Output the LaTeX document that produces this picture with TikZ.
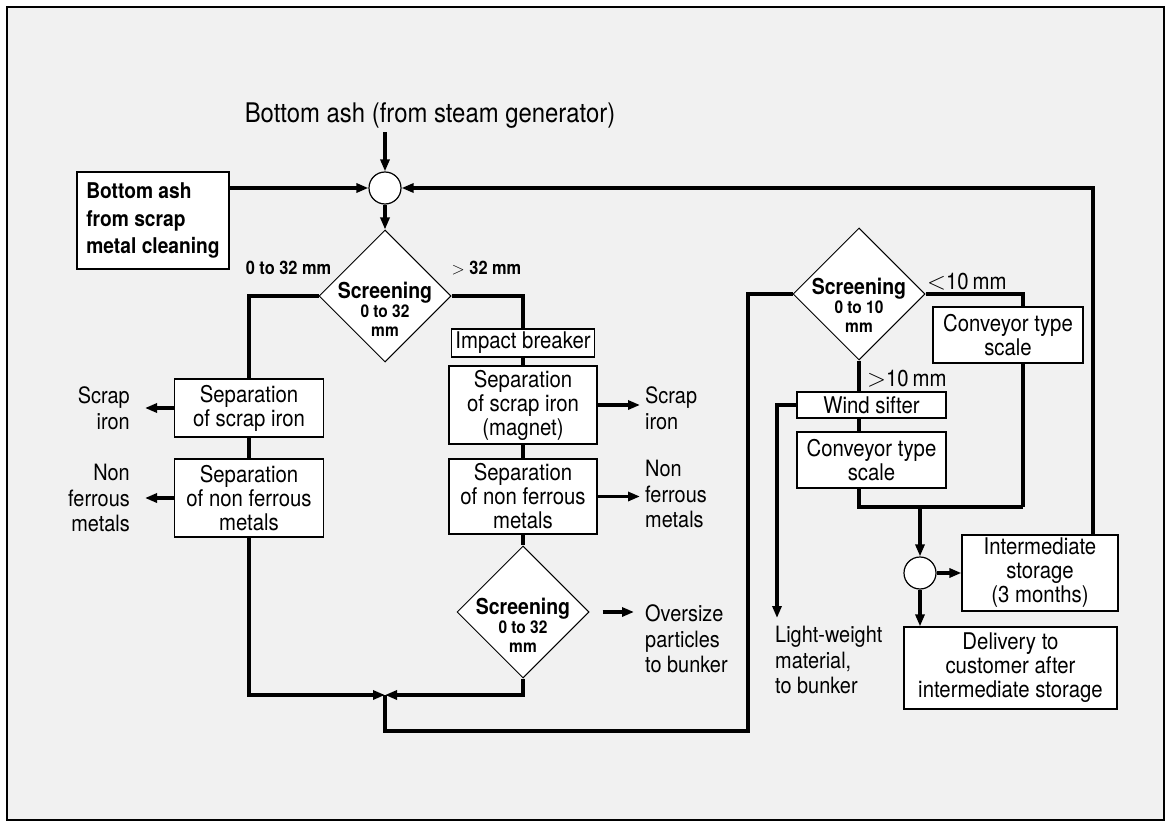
\documentclass[tikz,border=0pt]{standalone}
\usepackage{fontspec}
\setmainfont{TeX Gyre Heros}[FakeStretch=0.885]
\usetikzlibrary{shapes.geometric,arrows.meta}
\definecolor{panel}{HTML}{F1F1F1}
\newcommand{\bodyfont}{\fontsize{23}{24}\selectfont}
\newcommand{\sidefont}{\fontsize{22.5}{25.5}\selectfont}

\begin{document}
\begin{tikzpicture}[x=1pt,y=-1pt,>={Triangle[length=12pt,width=9pt]},
    flow/.style={line width=3.2pt},
    box node/.style={draw,fill=white,line width=1.2pt,inner sep=0pt,align=center,font=\bodyfont},
    mix node/.style={circle,draw,fill=white,line width=1.2pt,inner sep=0pt,minimum size=32pt},
    screen node/.style={diamond,draw,fill=white,line width=1pt,inner sep=0pt,minimum width=132pt,minimum height=132pt},
    screen text/.style={align=center,font=\fontsize{17.5}{19}\selectfont\bfseries,yshift=-13pt},
    side node/.style={inner ysep=0pt,font=\sidefont},
    size node/.style={inner sep=0pt,font=\fontsize{18.5}{20}\selectfont\bfseries}]
            \fill[white] (0,0) rectangle (1171,832);
            \draw[line width=1.5pt,fill=panel] (7,7) rectangle (1164,820);

            \node[font=\fontsize{27}{27}\selectfont] (17) at (430,116) {Bottom ash (from steam generator)};
            \node[mix node] (1) at (385,188) {};
            \node[box node,minimum width=152pt,minimum height=97pt,align=left,font=\fontsize{21.7}{27.5}\selectfont\bfseries] (2) at (153,220.5) {Bottom ash\\from scrap\\metal cleaning};
            \node[screen node,label={[screen text]center:{\fontsize{22}{22}\selectfont Screening}\\0 to 32\\mm}] (3) at (385,296) {};
            \node[size node] (24) at (288.5,268) {0 to 32 mm};
            \node[size node] (25) at (486.5,268) {$>$ 32 mm};

            \node[box node,minimum width=149pt,minimum height=58pt] (4) at (249,408) {Separation\\of scrap iron};
            \node[box node,minimum width=149pt,minimum height=78pt] (5) at (249,498) {Separation\\of non ferrous\\metals};
            \node[side node,anchor=east,align=right,inner xsep=15pt] (18) at (145,408.5) {Scrap\\iron};
            \node[side node,anchor=east,align=right,inner xsep=15pt] (19) at (145,498) {Non\\ferrous\\metals};

            \node[box node,minimum width=143pt,minimum height=28pt] (6) at (523,343) {Impact breaker};
            \node[box node,minimum width=148pt,minimum height=78pt] (7) at (523,405) {Separation\\of scrap iron\\(magnet)};
            \node[box node,minimum width=148pt,minimum height=75pt] (8) at (523,496.5) {Separation\\of non ferrous\\metals};
            \node[screen node,label={[screen text]center:{\fontsize{22}{22}\selectfont Screening}\\0 to 32\\mm}] (9) at (523,612) {};
            \node[side node,anchor=west,align=left,inner xsep=5pt] (20) at (640,408.5) {Scrap\\iron};
            \node[side node,anchor=west,align=left,inner xsep=5pt] (21) at (640,494) {Non\\ferrous\\metals};
            \node[side node,anchor=west,align=left,inner xsep=11pt] (22) at (634,639) {Oversize\\particles\\to bunker};

            \coordinate (j) at (385,695);
            \coordinate (k) at (748,731);
            \coordinate (m) at (1023,507);

            \node[screen node,label={[screen text,yshift=2pt]center:{\fontsize{22}{22}\selectfont Screening}\\0 to 10\\mm}] (10) at (859,294) {};
            \node[font=\bodyfont,anchor=west,inner sep=0pt] (26) at (927,282) {$<$10\,mm};
            \node[font=\bodyfont,anchor=west,inner sep=0pt] (27) at (867,379) {$>$10\,mm};
            \node[box node,minimum width=150pt,minimum height=56pt] (11) at (1008,335) {Conveyor type\\scale};
            \node[box node,minimum width=149pt,minimum height=26pt] (12) at (871.5,405) {Wind sifter};
            \node[box node,minimum width=149pt,minimum height=56pt] (13) at (871.5,460) {Conveyor type\\scale};
            \node[side node,anchor=north west,align=left,inner xsep=5pt] (23) at (770,626) {Light-weight\\material,\\to bunker};

            \node[mix node] (14) at (920,573) {};
            \node[box node,minimum width=156pt,minimum height=76pt] (15) at (1040,573) {Intermediate\\storage\\(3 months)};
            \node[box node,minimum width=213pt,minimum height=82pt] (16) at (1010.5,668) {Delivery to\\customer after\\intermediate storage};

            \path[flow,->]
                (17.south -| 1) edge (1.north)
                (2.east |- 1) edge (1.west)
                (1.south) edge (3.north)
                (4.west) edge (4.west -| 18.east)
                (5.west) edge (5.west -| 19.east)
                (7.east) edge (7.east -| 20.west)
                (8.east) edge (8.east -| 21.west)
                (9.east) edge[shorten <=13pt] (9.east -| 22.west)
                (m -| 14) edge (14.north)
                (14.east) edge (15.west)
                (14.south) edge (14.south |- 16.north)
            ;
            \path[flow]
                (4) edge (5)
                (6) edge (7)
                (7) edge (8)
                (8) edge (9)
                (10.south) edge (12.north -| 10)
                (12.south -| 10) edge (13.north -| 10)
            ;
            \draw[flow] (3.west) -| (4.north);
            \draw[flow] (3.east) -| (6.north);
            \draw[flow,->] (5.south) |- (j);
            \draw[flow,->] (9.south) |- (j);
            \draw[flow] (j) |- (k) |- (10.west);
            \draw[flow] (10.east) -| (11.north -| m);
            \draw[flow] (11.south -| m) -- (m);
            \draw[flow] (13.south -| 10) |- (m);
            \draw[flow,->] (12.west) -| ([xshift=7pt,yshift=8pt]23.north west);
            \draw[flow,->] ([xshift=53pt]15.north) |- (1.east);
        \end{tikzpicture}
\end{document}
